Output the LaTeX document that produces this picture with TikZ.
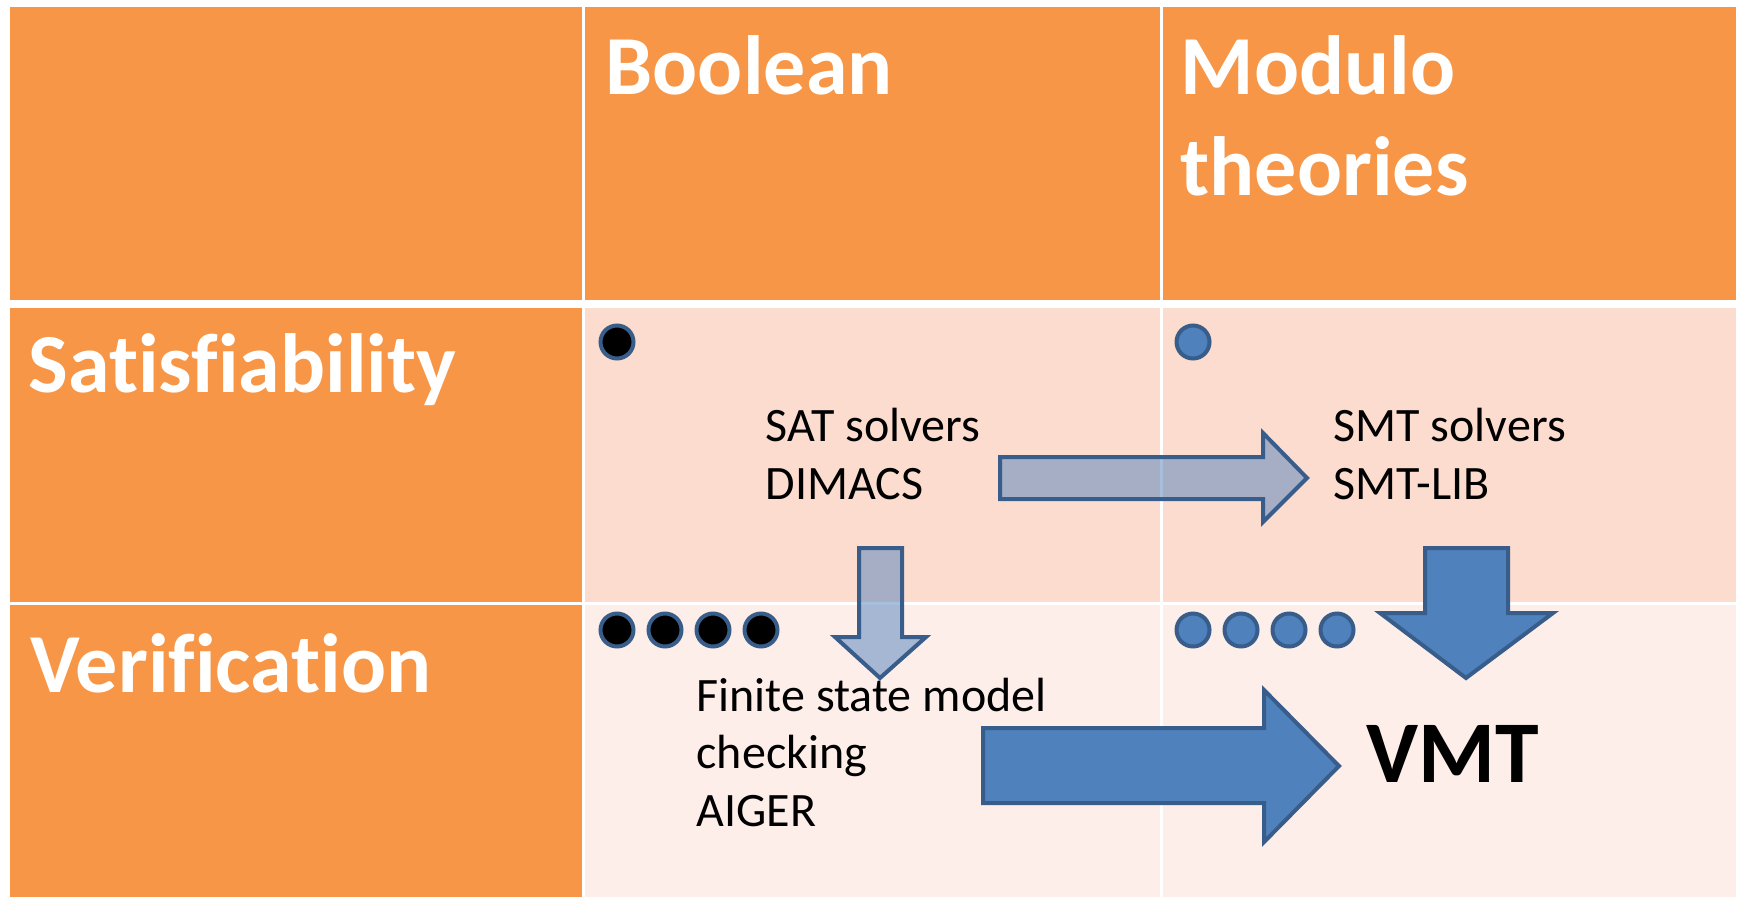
\documentclass[tikz,border=0pt]{standalone}
\usepackage{fontspec}
\setmainfont{Carlito}[Ligatures=NoCommon]
\usepackage{tikz}

\definecolor{hdrorange}{HTML}{F79646}
\definecolor{satpink}{HTML}{FCDCCE}
\definecolor{verpink}{HTML}{FDEEE9}
\definecolor{arrowblue}{HTML}{4F81BD}
\definecolor{edgeblue}{HTML}{385D8A}

\begin{document}
\begin{tikzpicture}[
            x = 1pt, y = -1pt, % one unit per pixel, y runs down
            node distance = 48pt, % distance between the dots
            line join = miter, % sharp arrow corners
            very thick
        ]

        \tikzstyle{hdr}=[
            anchor = base west, % base of the last line
            inner sep = 0pt,
            text = white,
            font = \fontsize{84}{101}\selectfont\bfseries,
            align = left
        ]
        \tikzstyle{body}=[
            anchor = base west,
            inner sep = 0pt,
            font = \fontsize{48}{57.5}\selectfont,
            align = left
        ]
        \tikzstyle{dot}=[
            circle,
            draw = edgeblue,
            line width = 4pt,
            minimum size = 33pt,
            inner sep = 0pt
        ]
        \tikzstyle{bdot}=[dot, fill = black]
        \tikzstyle{mdot}=[dot, fill = arrowblue]
        \tikzstyle{lightarrow}=[draw = edgeblue, line width = 4pt, fill = arrowblue, fill opacity = 0.5]
        \tikzstyle{fullarrow}=[draw = edgeblue, line width = 4pt, fill = arrowblue]

        \useasboundingbox (0,0) rectangle (1739,897);
        \fill[white] (0,0) rectangle (1739,897);

        % table cells
        \fill[hdrorange] (10,7) rectangle (582,300);
        \fill[hdrorange] (585,7) rectangle (1160,300);
        \fill[hdrorange] (1163,7) rectangle (1736,300);
        \fill[hdrorange] (10,308) rectangle (582,602);
        \fill[satpink] (585,308) rectangle (1160,602);
        \fill[satpink] (1163,308) rectangle (1736,602);
        \fill[hdrorange] (10,605) rectangle (582,897);
        \fill[verpink] (585,605) rectangle (1160,897);
        \fill[verpink] (1163,605) rectangle (1736,897);

        % headers
        \node[hdr] (bool) at (605,94) {Boolean};
        \node[hdr] (modulo) at (1180,195) {Modulo\\theories};
        \node[hdr] (sat) at (28,392) {Satisfiability};
        \node[hdr] (ver) at (30,692) {Verification};

        % block arrows
        \draw[lightarrow] (1000,457) -- (1263,457) -- (1263,433) -- (1307,478)
            -- (1263,522) -- (1263,499) -- (1000,499) -- cycle;
        \draw[lightarrow] (859,548) -- (902,548) -- (902,637) -- (926,637)
            -- (880,678) -- (835,637) -- (859,637) -- cycle;
        \draw[fullarrow] (1425,548) -- (1508,548) -- (1508,613) -- (1553,613)
            -- (1466,678) -- (1380,613) -- (1425,613) -- cycle;
        \draw[fullarrow] (983,728) -- (1264,728) -- (1264,690) -- (1339,766)
            -- (1264,842) -- (1264,803) -- (983,803) -- cycle;

        % dots
        \node[bdot] (bs1) at (617,342) {};
        \node[mdot] (ms1) at (1193,342) {};
        \node[bdot] (bv1) at (617,630) {};
        \node[bdot] (bv2) [right of=bv1] {};
        \node[bdot] (bv3) [right of=bv2] {};
        \node[bdot] (bv4) [right of=bv3] {};
        \node[mdot] (mv1) at (1193,630) {};
        \node[mdot] (mv2) [right of=mv1] {};
        \node[mdot] (mv3) [right of=mv2] {};
        \node[mdot] (mv4) [right of=mv3] {};

        % cell texts
        \node[body] (satsolve) at (765,499) {SAT solvers\\DIMACS};
        \node[body] (smtsolve) at (1333,499) {SMT solvers\\SMT-LIB};
        \node[body] (finite) at (696,826) {Finite state model\\checking\\AIGER};
        \node[body, font = \fontsize{88}{100}\selectfont\bfseries] (vmt) at (1366,782) {VMT};

  \end{tikzpicture}
\end{document}
